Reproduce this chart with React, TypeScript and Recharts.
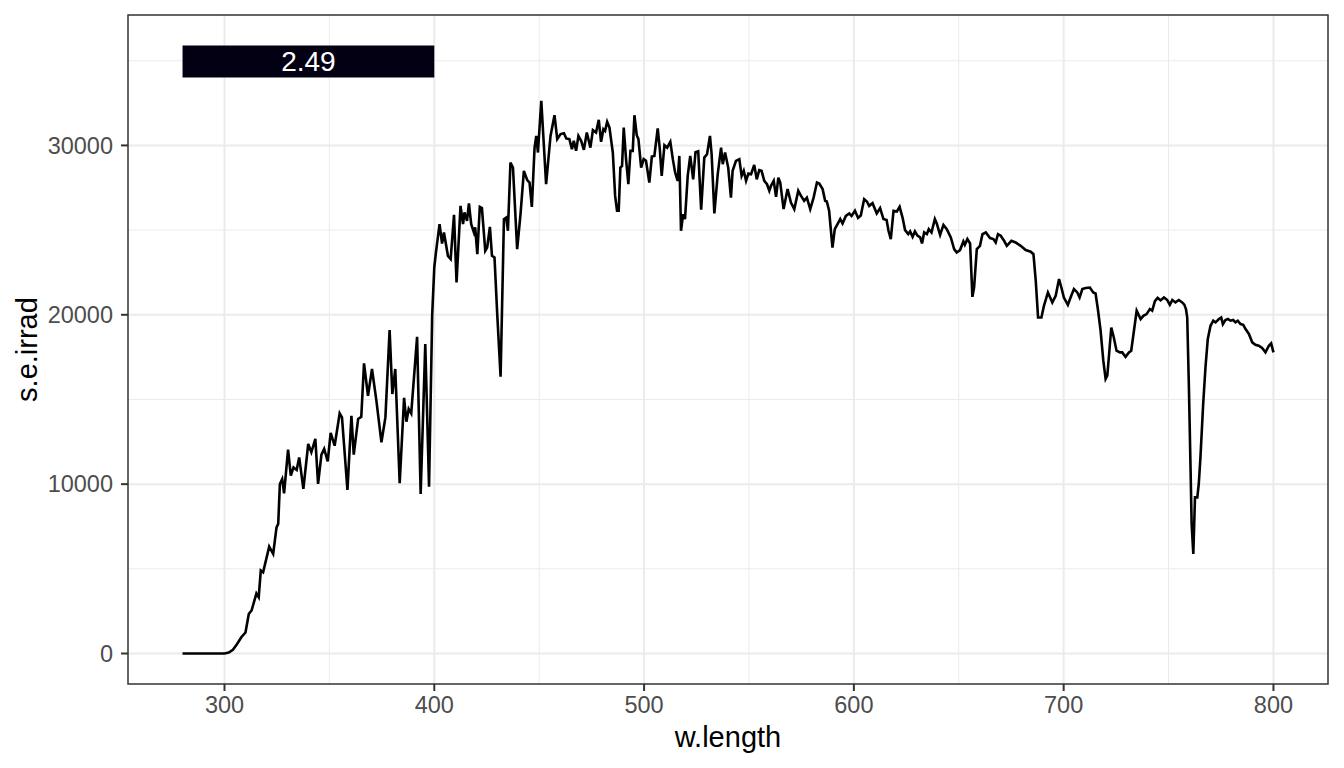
import React from 'react';
import {
  LineChart,
  Line,
  XAxis,
  YAxis,
  CartesianGrid,
  ReferenceArea,
  Label,
} from 'recharts';

const wavelengths: number[] = [
  280, 290, 300, 302, 304, 306, 308, 310, 311.6, 312.9, 315.2, 316.3, 317.3, 318.4, 321.3, 323.2,
  324.8, 325.6, 326.4, 327.5, 328.4, 330.3, 331.6, 332.9, 334.4, 335.6, 337.6, 339.9, 341.4, 343.3,
  344.6, 346.2, 347.5, 349.2, 350.6, 352.5, 354.9, 356, 358.6, 360.5, 361.6, 363.7, 365.2, 366.5,
  368.4, 370.3, 372.4, 374.8, 376.7, 378.7, 380, 381.4, 383.5, 385.6, 386.7, 387.8, 389, 391.8,
  393.5, 395.7, 397.5, 399, 400, 400.8, 402.5, 403.7, 404.6, 406.5, 407.8, 409.4, 410.6, 412.5,
  413.7, 414.4, 415.6, 416.5, 417.6, 418.9, 419.5, 420.5, 421.7, 422.7, 424.3, 425.2, 426.5, 427.5,
  428.7, 430, 431.6, 433.2, 434.3, 435.1, 436.3, 437.5, 439.5, 441.1, 442.7, 444.3, 445.4, 446.5,
  447.8, 448.6, 449.4, 451, 453.3, 455.4, 457.3, 458.6, 460.2, 461.8, 462.9, 464.4, 465.6, 466.5,
  467.6, 468.7, 470, 471.3, 472.7, 474.4, 475.6, 477.1, 478.4, 479.5, 480.6, 481.4, 482.4, 483.5,
  485.1, 486.2, 487.1, 487.9, 488.7, 489.5, 490.3, 491.4, 492.5, 493.5, 494.6, 495.4, 496.5, 497.3,
  498.6, 499.8, 500.9, 502.5, 503.7, 504.9, 506.5, 507.5, 508.4, 509.7, 511, 512.5, 513.7, 514.8,
  516, 516.8, 517.6, 518.6, 519.5, 520.8, 522, 523.4, 524.5, 525.8, 527.2, 528.7, 530, 531.4, 532.2,
  533.5, 535.1, 536.7, 537.5, 538.6, 540.1, 541.4, 542.2, 543.8, 545.4, 546.5, 547.5, 548.6, 549.7,
  551, 552.5, 553.7, 554.9, 556, 557.3, 558.6, 559.7, 560.5, 561.8, 562.9, 564, 564.9, 566.5, 568.4,
  570, 571.6, 573.5, 574.8, 576.3, 577.6, 579.2, 580.8, 582.4, 583.5, 585.1, 586.3, 587.1, 588.2,
  589.8, 590.9, 592.2, 593.5, 594.6, 596.2, 597.8, 598.9, 600.5, 602, 603.3, 604.9, 606.2, 607.3,
  608.9, 610.9, 612.5, 614.1, 615.6, 616.5, 617.6, 618.9, 620.5, 621.8, 623.2, 624.4, 625.9, 626.8,
  628, 629.1, 630.3, 631.6, 632.5, 633.5, 634.8, 635.7, 637, 638.6, 639.5, 641.1, 642.7, 644.3,
  646.2, 647.8, 649, 650.6, 652.2, 652.9, 654.1, 655.4, 656.5, 657.3, 658.6, 660.1, 661.3, 662.9,
  664.9, 666.5, 667.6, 668.7, 670, 671.6, 672.9, 675.1, 677.1, 679.5, 681.9, 684.3, 685.6, 686.7,
  687.8, 689.4, 690.6, 692.5, 694.6, 696.2, 697.8, 698.9, 700.1, 702, 703.3, 704.9, 706.5, 707.6,
  708.9, 710.5, 712.5, 714.1, 715.2, 716.3, 717.6, 718.9, 720, 720.8, 722.7, 723.9, 725.2, 726.8,
  727.9, 729.5, 731.1, 732.2, 733.5, 734.8, 736.7, 738, 739.5, 741.1, 742.2, 743.5, 744.8, 746.2,
  747.8, 749.4, 750.6, 751.8, 753.3, 754.9, 756.5, 757.5, 758.3, 758.9, 759.7, 760.5, 761, 761.8,
  762.6, 763.7, 764.4, 765.2, 766.5, 767.6, 768.7, 770, 771.3, 772.4, 774, 775.1, 775.9, 777.1,
  778.3, 779.5, 780.8, 781.9, 783, 784.3, 785.6, 786.7, 788.3, 789.9, 791.4, 793, 794.6, 796.2,
  797.8, 798.9, 800,
];

const irradiance: number[] = [
  0, 0, 0, 60, 220, 560, 960, 1240, 2340, 2540, 3540, 3320, 4900, 4800, 6310, 5880,
  7450, 7650, 10010, 10300, 9460, 12040, 10500, 10990, 10840, 11580, 9720, 12370, 11880, 12670,
  10010, 11740, 12080, 11350, 13030, 12270, 14180, 13940, 9660, 14040, 11740, 13850, 13980, 17130,
  15220, 16800, 14930, 12470, 13940, 19100, 15320, 16800, 10050, 15090, 13690, 14440, 14180, 18700,
  9420, 18270, 9850, 20000, 22800, 23700, 25350, 24210, 24860, 23480, 23290, 25900, 21910, 26430,
  25350, 26040, 25550, 26570, 25350, 24860, 25160, 23580, 26370, 26300, 23780, 23970, 25190, 23480,
  23380, 20040, 16340, 25650, 25740, 24960, 28990, 28690, 23880, 25940, 28500, 27950, 27810, 26370,
  29870, 30560, 29580, 32630, 27710, 30560, 31780, 30370, 30670, 30720, 30410, 30370, 29780, 30270,
  29680, 30560, 30270, 29740, 30760, 29870, 30900, 30760, 31510, 30210, 30960, 30860, 31390, 31050,
  29580, 27020, 26140, 26140, 28690, 28790, 31050, 29190, 27710, 29680, 29680, 31780, 30600, 30370,
  28690, 29190, 29090, 27810, 29340, 29380, 31000, 29780, 28200, 30010, 29870, 30210, 29190, 28400,
  27910, 29380, 24960, 25940, 25650, 28200, 29380, 28000, 29600, 29650, 26200, 29280, 29480, 30560, 29480,
  25980, 28300, 29870, 28890, 29580, 28690, 26920, 28500, 29090, 29190, 28200, 28500, 27910, 28340,
  28300, 28850, 28000, 28540, 28500, 27910, 27710, 27320, 27610, 27910, 26960, 28100, 27810, 26240, 27420,
  26630, 26240, 27320, 27020, 26730, 26920, 26240, 26920, 27810, 27750, 27420, 26730, 26690, 26140,
  23970, 25060, 25350, 25650, 25390, 25840, 25980, 25840, 26140, 25720, 25860, 26830, 26690, 26430,
  26590, 25980, 26300, 25650, 25590, 24960, 24470, 26140, 26100, 26370, 25740, 25000, 24760, 24920,
  24600, 24920, 24670, 24570, 24210, 24860, 24760, 25060, 24860, 25650, 25390, 24720, 25310, 25060,
  24570, 23880, 23680, 23820, 24330, 24130, 24470, 24210, 21060, 21610, 23880, 24070, 24760, 24860,
  24530, 24470, 24270, 24760, 24670, 24370, 24070, 24370, 24270, 24070, 23820, 23720, 23580, 22010,
  19840, 19840, 20530, 21320, 20730, 21120, 22110, 21610, 21020, 20590, 21020, 21520, 21320, 21020,
  21520, 21580, 21610, 21320, 21260, 20340, 19060, 17290, 16210, 16400, 19250, 18660, 17880, 17780,
  17780, 17520, 17780, 17880, 19060, 20240, 19750, 19940, 20040, 20340, 20240, 20800, 21000, 20850,
  21020, 20870, 20590, 20870, 20730, 20870, 20730, 20600, 20340, 19840, 15710, 10800, 7650, 5880,
  9220, 9220, 10010, 11580, 14730, 16900, 18570, 19350, 19650, 19550, 19750, 19840, 19450, 19690,
  19750, 19650, 19690, 19550, 19650, 19450, 19410, 19160, 18870, 18370, 18230, 18170, 18040, 17780,
  18170, 18310, 17780,
];

const xTicks: number[] = [300, 400, 500, 600, 700, 800];
const xMinorTicks: number[] = [350, 450, 550, 650, 750];
const yTicks: number[] = [0, 10000, 20000, 30000];
const yMinorTicks: number[] = [5000, 15000, 25000, 35000];

const xDomain: [number, number] = [254, 826];
const yDomain: [number, number] = [-1800, 37700];

const labelWavelengths: [number, number] = [280, 400];
const labelIrradiance: [number, number] = [34016, 35906];
const labelText = '2.49';
const labelFill = '#040014';

const data = wavelengths.map((w, i) => ({ w, irrad: irradiance[i] }));

const FONT = '"Liberation Sans", Arial, Helvetica, sans-serif';

const XTitle = (props: any) => {
  const vb = props.viewBox || { x: 128, y: 684, width: 1200, height: 84 };
  return (
    <text
      x={vb.x + vb.width / 2}
      y={vb.y + 63}
      textAnchor="middle"
      fontSize={29}
      fill="#000000"
      fontFamily={FONT}
    >
      w.length
    </text>
  );
};

const YTitle = (props: any) => {
  const vb = props.viewBox || { x: 0, y: 15, width: 128, height: 669 };
  const cx = vb.x + 37;
  const cy = vb.y + vb.height / 2;
  return (
    <text
      x={cx}
      y={cy}
      textAnchor="middle"
      fontSize={29}
      fill="#000000"
      fontFamily={FONT}
      transform={`rotate(-90, ${cx}, ${cy})`}
    >
      s.e.irrad
    </text>
  );
};

export default function App() {
  return (
    <div
      style={{
        position: 'absolute',
        left: 0,
        top: 0,
        width: 1344,
        height: 768,
        background: '#ffffff',
        fontFamily: FONT,
      }}
    >
      <LineChart
        width={1344}
        height={768}
        data={data}
        margin={{ top: 15, right: 16, bottom: 0, left: 0 }}
      >
        <CartesianGrid
          stroke="#EBEBEB"
          strokeWidth={1}
          verticalValues={xMinorTicks}
          horizontalValues={yMinorTicks}
        />
        <CartesianGrid
          stroke="#EBEBEB"
          strokeWidth={2}
          verticalValues={xTicks}
          horizontalValues={yTicks}
        />
        <XAxis
          dataKey="w"
          type="number"
          domain={xDomain}
          ticks={xTicks}
          allowDataOverflow
          height={84}
          axisLine={false}
          tickLine={{ stroke: '#333333', strokeWidth: 2 }}
          tickSize={7}
          tickMargin={5}
          tick={{ fill: '#4D4D4D', fontSize: 23.5, fontFamily: FONT }}
        >
          <Label content={<XTitle />} />
        </XAxis>
        <YAxis
          type="number"
          domain={yDomain}
          ticks={yTicks}
          allowDataOverflow
          width={128}
          axisLine={false}
          tickLine={{ stroke: '#333333', strokeWidth: 2 }}
          tickSize={7}
          tickMargin={8}
          tick={{ fill: '#4D4D4D', fontSize: 23.5, fontFamily: FONT }}
        >
          <Label content={<YTitle />} />
        </YAxis>
        <Line
          type="linear"
          dataKey="irrad"
          stroke="#000000"
          strokeWidth={2.6}
          dot={false}
          activeDot={false}
          isAnimationActive={false}
        />
        <ReferenceArea
          x1={labelWavelengths[0]}
          x2={labelWavelengths[1]}
          y1={labelIrradiance[0]}
          y2={labelIrradiance[1]}
          fill={labelFill}
          fillOpacity={1}
          stroke="none"
          label={{ value: labelText, position: 'center', fill: '#ffffff', fontSize: 28, fontFamily: FONT }}
        />
        <ReferenceArea
          x1={xDomain[0]}
          x2={xDomain[1]}
          y1={yDomain[0]}
          y2={yDomain[1]}
          fill="none"
          fillOpacity={0}
          stroke="#333333"
          strokeWidth={1.5}
          ifOverflow="visible"
        />
      </LineChart>
    </div>
  );
}
